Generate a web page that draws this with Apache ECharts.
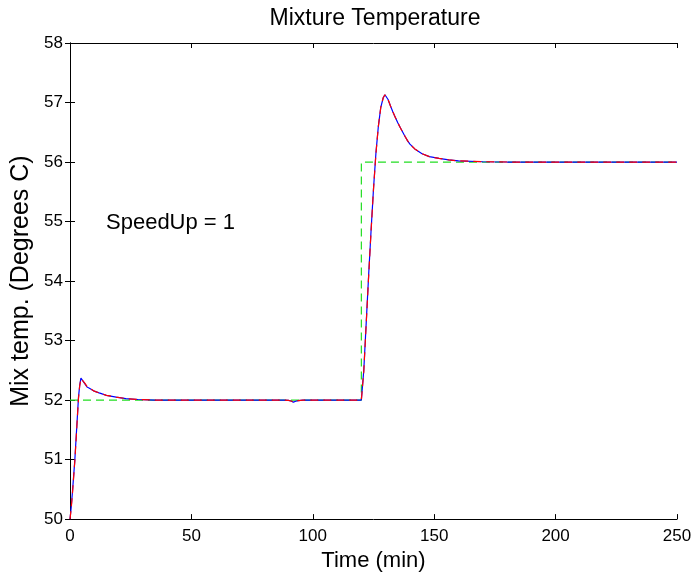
<!DOCTYPE html>
<html>
<head>
<meta charset="utf-8">
<script src="https://cdn.jsdelivr.net/npm/echarts@6/dist/echarts.min.js"></script>
<style>
html,body{margin:0;padding:0;background:#fff;}
#chart{width:697px;height:577px;}
</style>
</head>
<body>
<div id="chart"></div>
<script>
// ---- data ----
var timeMin = [0, 0.5, 1, 2, 3, 3.5, 4, 4.5, 4.8, 5.3, 6, 7, 8, 10, 12, 15, 19, 23, 28, 35, 50, 70, 88, 90, 91, 92, 93, 94, 96, 100, 110, 120, 120.3, 121, 122, 123, 124, 125, 126, 127, 128, 129, 129.7, 130.5, 131, 132, 133, 134, 135, 136, 138, 139, 140, 142, 145, 148, 152, 156, 160, 170, 180, 200, 220, 250];
var actualTemp = [50.0, 50.2, 50.45, 51.0, 51.7, 52.05, 52.25, 52.37, 52.4, 52.37, 52.28, 52.22, 52.2, 52.15, 52.12, 52.08, 52.05, 52.025, 52.01, 52.0, 52.0, 52.0, 52.0, 51.995, 51.985, 51.965, 51.98, 51.99, 52.0, 52.0, 52.0, 52.0, 52.0, 52.5, 53.3, 54.1, 54.85, 55.55, 56.15, 56.6, 56.92, 57.08, 57.13, 57.1, 57.05, 56.94, 56.84, 56.75, 56.66, 56.58, 56.43, 56.36, 56.3, 56.22, 56.14, 56.09, 56.06, 56.035, 56.02, 56.005, 56.0, 56.0, 56.0, 56.0];
var modelTemp = [50.0, 50.18, 50.42, 50.98, 51.68, 52.03, 52.24, 52.36, 52.39, 52.37, 52.29, 52.23, 52.2, 52.15, 52.12, 52.08, 52.05, 52.025, 52.01, 52.0, 52.0, 52.0, 52.0, 51.995, 51.985, 51.968, 51.98, 51.99, 52.0, 52.0, 52.0, 52.0, 52.0, 52.48, 53.28, 54.08, 54.84, 55.54, 56.14, 56.6, 56.92, 57.08, 57.13, 57.1, 57.05, 56.94, 56.84, 56.75, 56.66, 56.58, 56.43, 56.36, 56.3, 56.22, 56.14, 56.09, 56.06, 56.035, 56.02, 56.005, 56.0, 56.0, 56.0, 56.0];
var setTime = [0, 120, 120, 250];
var setTemp = [52, 52, 56, 56];
var xTicks = [0, 50, 100, 150, 200, 250];
var yTicks = [50, 51, 52, 53, 54, 55, 56, 57, 58];

function pairs(xs, ys){ return xs.map(function(x,i){ return [x, ys[i]]; }); }

var FONT = '"Liberation Sans", Arial, Helvetica, sans-serif';
var chart = echarts.init(document.getElementById('chart'));
var axisCommon = {
  axisLine: {show: true, lineStyle: {color: '#000', width: 1}},
  axisTick: {show: true, inside: true, length: 5, lineStyle: {color: '#000'}},
  splitLine: {show: false}
};
chart.setOption({
  animation: false,
  backgroundColor: '#fff',
  grid: {left: 70, right: 20, top: 43, bottom: 55, containLabel: false},
  graphic: [
    {type: 'text', x: 375, y: 19, style: {text: 'Mixture Temperature', fontFamily: FONT, fontSize: 23, fill: '#000', textAlign: 'center', textVerticalAlign: 'middle'}},
    {type: 'text', x: 106, y: 223, style: {text: 'SpeedUp = 1', fontFamily: FONT, fontSize: 22, fill: '#000', textAlign: 'left', textVerticalAlign: 'middle'}}
  ],
  xAxis: [
    Object.assign({type: 'value', position: 'bottom', min: xTicks[0], max: xTicks[xTicks.length-1], interval: 50,
      name: 'Time (min)', nameLocation: 'middle', nameGap: 30,
      nameTextStyle: {fontFamily: FONT, fontSize: 22, color: '#000'},
      axisLabel: {fontFamily: FONT, fontSize: 17, color: '#000', margin: 9}}, axisCommon),
    Object.assign({type: 'value', position: 'top', min: 0, max: 250, interval: 50,
      axisLabel: {show: false}}, axisCommon)
  ],
  yAxis: [
    Object.assign({type: 'value', position: 'left', min: yTicks[0], max: yTicks[yTicks.length-1], interval: 1,
      name: 'Mix temp. (Degrees C)', nameLocation: 'middle', nameGap: 35,
      nameTextStyle: {fontFamily: FONT, fontSize: 25, color: '#000'},
      axisLabel: {fontFamily: FONT, fontSize: 17, color: '#000', margin: 7}}, axisCommon),
    Object.assign({type: 'value', position: 'right', min: 50, max: 58, interval: 1,
      axisLabel: {show: false}}, axisCommon)
  ],
  series: [
    {type: 'line', name: 'setpoint', data: pairs(setTime, setTemp), showSymbol: false, symbol: 'none',
      lineStyle: {color: '#22dd22', width: 1.2, type: [8, 5]}, z: 2},
    {type: 'line', name: 'actual', data: pairs(timeMin, actualTemp), showSymbol: false, symbol: 'none',
      lineStyle: {color: '#0000ff', width: 1.2}, z: 3},
    {type: 'line', name: 'model', data: pairs(timeMin, modelTemp), showSymbol: false, symbol: 'none',
      lineStyle: {color: '#ff0000', width: 1.2, type: [8, 5]}, z: 4}
  ]
});
</script>
</body>
</html>
